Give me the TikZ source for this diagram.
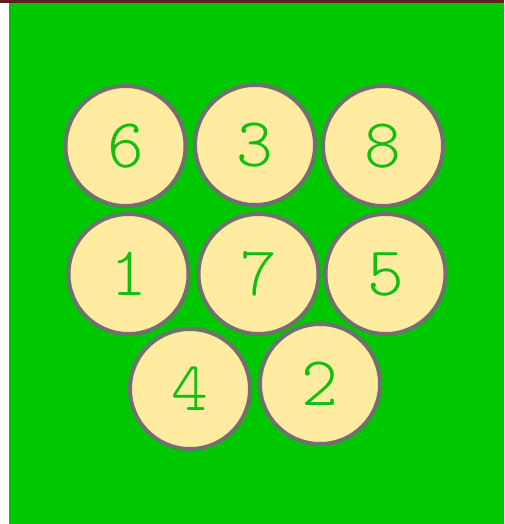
\documentclass[tikz,border=0pt]{standalone}
\usepackage{fontspec}
\newfontfamily\lightmono{Latin Modern Mono Light}
\definecolor{bggreen}{RGB}{0,200,0}
\definecolor{topred}{RGB}{92,32,32}
\definecolor{ballfill}{RGB}{255,236,160}
\definecolor{ballline}{RGB}{112,112,112}
\definecolor{digit}{RGB}{17,190,17}
\tikzset{ball/.style={circle,draw=ballline,fill=ballfill,line width=4pt,minimum size=120pt,inner sep=0pt,text=digit,font=\lightmono\fontsize{70pt}{70pt}\selectfont}}
\begin{document}
\begin{tikzpicture}[x=1pt,y=-1pt]
\useasboundingbox (0,0) rectangle (504,524);
\fill[white] (0,0) rectangle (504,524);
\fill[bggreen] (9,3) rectangle (504,524);
\fill[topred] (0,0) rectangle (504,3.3);
\node[ball] (n6) at (125.5,146) {6};
\node[ball] (n3) at (255,145) {3};
\node[ball] (n8) at (383,146) {8};
\node[ball] (n1) at (128.5,274) {1};
\node[ball] (n7) at (258.5,274) {7};
\node[ball] (n5) at (385.5,274) {5};
\node[ball] (n4) at (190,389) {4};
\node[ball] (n2) at (320,384) {2};
\end{tikzpicture}
\end{document}
